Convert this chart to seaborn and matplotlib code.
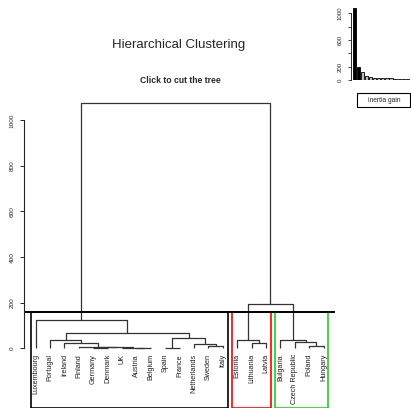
import matplotlib
matplotlib.use("Agg")
import matplotlib.pyplot as plt
import seaborn as sns
import pandas as pd
from matplotlib.patches import Rectangle

# leaves in dendrogram order
countries = ["Luxembourg", "Portugal", "Ireland", "Finland", "Germany", "Denmark",
             "UK", "Austria", "Belgium", "Spain", "France", "Netherlands", "Sweden",
             "Italy", "Estonia", "Lithuania", "Latvia", "Bulgaria", "Czech Republic",
             "Poland", "Hungary"]
cluster = [1] * 14 + [2] * 3 + [3] * 4

# merges, R style: negative = leaf (1-based), positive = earlier merge (1-based)
merge_a = [-8, -10, -7, -5, 4, -4, -13, -20, -12, -16, -3, -19, -2, -15, -18, 2, 13, -1, 14, 18]
merge_b = [-9, -11, 1, -6, 3, 5, -14, -21, 7, -17, 6, 8, 11, 10, 12, 9, 16, 17, 15, 19]
merge_h = [1.0, 1.2, 1.8, 2.5, 4.0, 7, 10, 11, 18, 22, 25, 28, 36, 36.5, 35.5, 47, 67,
           125, 193, 1078]

cut_height = 159
inertia_gain = [1078, 193, 125, 67, 47, 36.5, 36, 35.5, 28, 25, 22, 18, 11, 10, 7]
n_black = 2

cluster_colors = {1: "black", 2: "#ff0000", 3: "#22cc22"}

sns.set_style("white")
plt.rcParams["font.family"] = ["Liberation Sans", "DejaVu Sans"]

W, H = 411, 408
fig = plt.figure(figsize=(W / 100, H / 100), dpi=100)

# main dendrogram axes (pixel based placement)
left_px, right_px, top_px, bot_px = 24.1, 335.1, 100, 407.6
ax = fig.add_axes([left_px / W, (H - bot_px) / H, (right_px - left_px) / W, (bot_px - top_px) / H])
ax.set_xlim(-0.8, 20.8)
ax.set_ylim((348.3 - bot_px) / 0.228, (348.3 - top_px) / 0.228)

pos = {}
hgt = {}
def node_xy(k):
    if k < 0:
        return -k - 1, 0.0
    return pos[k], hgt[k]

for i, (a, b, h) in enumerate(zip(merge_a, merge_b, merge_h), start=1):
    xa, ha = node_xy(a)
    xb, hb = node_xy(b)
    ax.plot([xa, xa, xb, xb], [ha, h, h, hb], color="#333333", lw=0.9, solid_capstyle="butt")
    pos[i] = (xa + xb) / 2
    hgt[i] = h

for i, name in enumerate(countries):
    ax.text(i, -25, name, rotation=90, ha="center", va="top", fontsize=5.2, color="#222222")

ax.axhline(cut_height, color="black", lw=1.4)

df = pd.DataFrame({"pos": range(len(countries)), "cluster": cluster})
ybot = ax.get_ylim()[0]
for c, g in df.groupby("cluster"):
    x0 = g["pos"].min() - 0.34
    x1 = g["pos"].max() + 0.33
    ax.add_patch(Rectangle((x0, ybot), x1 - x0, cut_height - ybot, fill=False,
                           edgecolor=cluster_colors[c], lw=1.2))

for s in ["top", "right", "bottom"]:
    ax.spines[s].set_visible(False)
ax.spines["left"].set_bounds(0, 1000)
ax.spines["left"].set_linewidth(0.8)
ax.set_xticks([])
ax.set_yticks(range(0, 1001, 200))
ax.tick_params(axis="y", length=2.6, width=0.7, pad=4, labelsize=4.6, left=True)
plt.setp(ax.get_yticklabels(), rotation=90, va="center")

fig.text(179 / W, 1 - 45 / H, "Hierarchical Clustering", ha="center", va="center", fontsize=9.5)
fig.text(180 / W, 1 - 80.7 / H, "Click to cut the tree", ha="center", va="center",
         fontsize=6.2, fontweight="bold")

# inset: inertia gain barplot
bx0, bx1, by0, by1 = 350.7, 413.8, 80, 8
ax2 = fig.add_axes([bx0 / W, (H - by0) / H, (bx1 - bx0) / W, (by0 - by1) / H])
bars = pd.DataFrame({"k": range(len(inertia_gain)), "gain": inertia_gain})
bar_colors = ["black"] * n_black + ["#bebebe"] * (len(inertia_gain) - n_black)
sns.barplot(data=bars, x="k", y="gain", hue="k", palette=bar_colors, legend=False,
            edgecolor="black", linewidth=0.6, width=0.78, ax=ax2)
ax2.set_xlim(-0.91, 14.6)
ax2.set_ylim(0, 1080)
for s in ["top", "right", "bottom"]:
    ax2.spines[s].set_visible(False)
ax2.spines["left"].set_bounds(0, 1000)
ax2.spines["left"].set_linewidth(0.7)
ax2.set_xticks([])
ax2.set_yticks(range(0, 1001, 200))
ax2.set_yticklabels(["0", "200", "", "600", "", "1000"])
ax2.tick_params(axis="y", length=2.4, width=0.6, pad=3.5, labelsize=4.4, left=True)
plt.setp(ax2.get_yticklabels(), rotation=90, va="center")
ax2.set_xlabel("")
ax2.set_ylabel("")
ax2.patch.set_alpha(0)

fig.patches.append(Rectangle((357 / W, 1 - 107 / H), 53 / W, 14 / H, transform=fig.transFigure,
                             fill=False, edgecolor="black", lw=0.8))
fig.text(384 / W, 1 - 100 / H, "inertia gain", ha="center", va="center", fontsize=4.8)

fig.savefig("out.png", dpi=100)
